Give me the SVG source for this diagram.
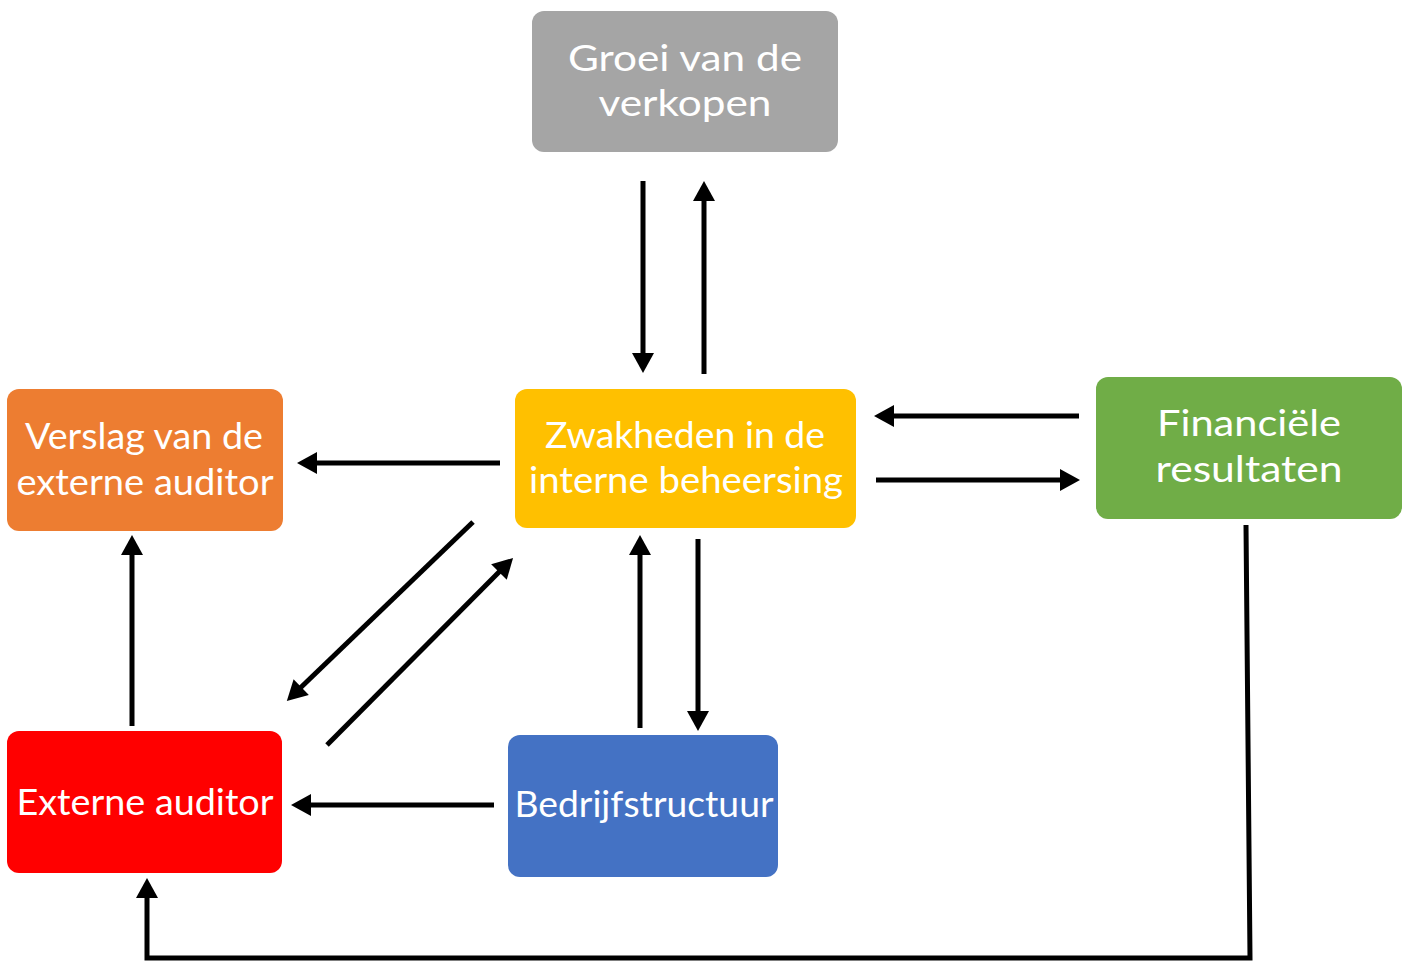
<svg xmlns="http://www.w3.org/2000/svg" width="1408" height="961" viewBox="0 0 1408 961">
<style>
.box{stroke:none}
.t{font-family:Lato,"Open Sans","Liberation Sans",sans-serif;font-size:36px;fill:#ffffff;text-anchor:middle}
.c{stroke:#000;stroke-width:5;fill:none;marker-end:url(#ah)}
</style>
<defs>
<marker id="ah" markerUnits="strokeWidth" markerWidth="4" markerHeight="4.4" refX="2" refY="2.2" orient="auto" overflow="visible">
<path d="M0,0 L4,2.2 L0,4.4 z" fill="#000"/>
</marker>
</defs>
<rect width="1408" height="961" fill="#fff"/>
<g id="groei">
<rect class="box" x="532" y="11" width="306" height="141" rx="12" fill="#a5a5a5"/>
<text class="t" x="685" y="71" textLength="234" lengthAdjust="spacingAndGlyphs" fill="#f2f2f2">Groei van de</text>
<text class="t" x="685" y="116" textLength="173" lengthAdjust="spacingAndGlyphs" fill="#f2f2f2">verkopen</text>
</g>
<g id="zwakheden">
<rect class="box" x="515" y="389" width="341" height="139" rx="12" fill="#ffc000"/>
<text class="t" x="685" y="448" textLength="280" lengthAdjust="spacingAndGlyphs">Zwakheden in de</text>
<text class="t" x="686" y="493" textLength="314" lengthAdjust="spacingAndGlyphs">interne beheersing</text>
</g>
<g id="verslag">
<rect class="box" x="7" y="389" width="276" height="142" rx="12" fill="#ed7d31"/>
<text class="t" x="144" y="449" textLength="238" lengthAdjust="spacingAndGlyphs">Verslag van de</text>
<text class="t" x="145" y="495" textLength="257" lengthAdjust="spacingAndGlyphs">externe auditor</text>
</g>
<g id="financieel">
<rect class="box" x="1096" y="377" width="306" height="142" rx="12" fill="#70ad47"/>
<text class="t" x="1249" y="436" textLength="184" lengthAdjust="spacingAndGlyphs">Financiële</text>
<text class="t" x="1249" y="482" textLength="187" lengthAdjust="spacingAndGlyphs">resultaten</text>
</g>
<g id="extern">
<rect class="box" x="7" y="731" width="275" height="142" rx="12" fill="#ff0000"/>
<text class="t" x="145" y="815" textLength="257" lengthAdjust="spacingAndGlyphs">Externe auditor</text>
</g>
<g id="bedrijf">
<rect class="box" x="508" y="735" width="270" height="142" rx="12" fill="#4472c4"/>
<text class="t" x="644" y="817" textLength="259" lengthAdjust="spacingAndGlyphs">Bedrijfstructuur</text>
</g>
<g id="connectors">
<path class="c" d="M643,181 L643,363"/>
<path class="c" d="M704,374 L704,191"/>
<path class="c" d="M500,463 L307,463"/>
<path class="c" d="M1079,416 L884,416"/>
<path class="c" d="M876,480 L1070,480"/>
<path class="c" d="M473,522 L294,694"/>
<path class="c" d="M327,745 L506,565"/>
<path class="c" d="M640,728 L640,545"/>
<path class="c" d="M698,539 L698,721"/>
<path class="c" d="M494,805 L301,805"/>
<path class="c" d="M132,726 L132,545"/>
<path class="c" d="M1246,525 L1250,958 L147,958 L147,888"/>
</g>
</svg>
